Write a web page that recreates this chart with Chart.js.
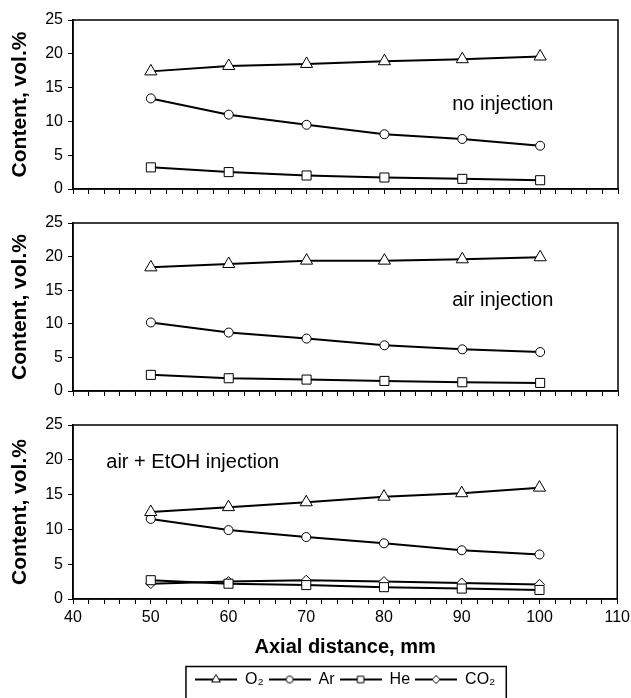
<!DOCTYPE html>
<html>
<head>
<meta charset="utf-8">
<script src="https://cdn.jsdelivr.net/npm/chart.js@4.4.0/dist/chart.umd.min.js"></script>
<style>
body { margin: 0; background: #fff; width: 631px; height: 698px; position: relative; overflow: hidden; }
canvas { position: absolute; left: 0; }
</style>
</head>
<body>
<canvas id="c1" width="634" height="202" style="top:0px"></canvas>
<canvas id="c2" width="634" height="202" style="top:202px"></canvas>
<canvas id="c3" width="634" height="300" style="top:404px"></canvas>
<script>
// axial distance, mm
var xValues = [50, 60, 70, 80, 90, 100];

// no injection
var o2NoInj = [17.4, 18.2, 18.5, 18.9, 19.2, 19.6];
var arNoInj = [13.4, 11.0, 9.5, 8.1, 7.4, 6.4];
var heNoInj = [3.2, 2.5, 2.0, 1.7, 1.5, 1.3];

// air injection
var o2Air = [18.4, 18.9, 19.4, 19.4, 19.6, 19.9];
var arAir = [10.2, 8.7, 7.8, 6.8, 6.2, 5.8];
var heAir = [2.4, 1.9, 1.7, 1.5, 1.3, 1.2];

// air + EtOH injection
var o2Etoh = [12.5, 13.2, 13.9, 14.7, 15.2, 16.0];
var arEtoh = [11.5, 9.9, 8.9, 8.0, 7.0, 6.4];
var heEtoh = [2.7, 2.2, 2.0, 1.7, 1.5, 1.3];
var co2Etoh = [2.2, 2.5, 2.7, 2.5, 2.3, 2.1];

var seriesNames = ['O\u2082', 'Ar', 'He', 'CO\u2082'];
var xTicks = [40, 50, 60, 70, 80, 90, 100, 110];
var yTicks = [0, 5, 10, 15, 20, 25];

var FONT = '"Liberation Sans", Arial, Helvetica, sans-serif';
var styles = ['triangle', 'circle', 'rect', 'rectRot'];
var radii = [7, 4.5, 6.4, 5];
var legendRadii = [5, 3.5, 4.6, 4];

function pts(arr) {
    return xValues.map(function (x, i) { return {x: x, y: arr[i]}; });
}

function dataset(i, arr) {
    return {
        label: seriesNames[i],
        data: pts(arr),
        borderColor: '#000',
        borderWidth: 2,
        pointStyle: styles[i],
        pointRadius: radii[i],
        pointBackgroundColor: '#fff',
        pointBorderColor: '#000',
        pointBorderWidth: 1,
        tension: 0,
        fill: false
    };
}

// little line + marker pictures for the legend
function legendImage(i) {
    var c = document.createElement('canvas');
    c.width = 42; c.height = 14;
    var ctx = c.getContext('2d');
    ctx.strokeStyle = '#000';
    ctx.lineWidth = 2;
    ctx.beginPath(); ctx.moveTo(0, 7); ctx.lineTo(42, 7); ctx.stroke();
    ctx.fillStyle = '#fff';
    ctx.lineWidth = 1;
    Chart.helpers.drawPoint(ctx, {pointStyle: styles[i], radius: legendRadii[i], rotation: 0, borderWidth: 1}, 21, 7);
    return c;
}

var framePlugin = {
    id: 'frame',
    afterDraw: function (chart, args, opts) {
        var ctx = chart.ctx, a = chart.chartArea;
        ctx.save();
        ctx.strokeStyle = '#000';
        ctx.lineWidth = 1.5;
        ctx.strokeRect(a.left, a.top, a.right - a.left, a.bottom - a.top);
        if (opts.text) {
            ctx.font = '20px ' + FONT;
            ctx.fillStyle = '#000';
            ctx.textAlign = 'center';
            ctx.textBaseline = 'middle';
            ctx.fillText(opts.text, chart.scales.x.getPixelForValue(opts.x), chart.scales.y.getPixelForValue(opts.y));
        }
        var lg = chart.legend;
        if (opts.legendBox && lg && lg.legendHitBoxes && lg.legendHitBoxes.length) {
            var hb = lg.legendHitBoxes;
            var l = hb[0].left - 9;
            var r = hb[hb.length - 1].left + hb[hb.length - 1].width + 11;
            ctx.lineWidth = 1.5;
            ctx.strokeRect(l, lg.top, r - l, 60);
        }
        ctx.restore();
    }
};

function makePanel(id, datasets, o) {
    var last = !!o.last;
    return new Chart(id, {
        type: 'line',
        data: {datasets: datasets},
        plugins: [framePlugin],
        options: {
            responsive: false,
            animation: false,
            layout: {padding: {top: o.top, left: 0, right: 16, bottom: o.bottom || 0}},
            scales: {
                x: {
                    type: 'linear',
                    min: xTicks[0], max: xTicks[xTicks.length - 1],
                    afterFit: function (s) { s.height = o.xh; },
                    ticks: {
                        stepSize: 2, autoSkip: false, maxRotation: 0, maxTicksLimit: 100,
                        padding: 4, color: '#000',
                        font: {family: FONT, size: 16},
                        callback: function (v) { return (last && xTicks.indexOf(v) >= 0) ? String(v) : ''; }
                    },
                    grid: {drawOnChartArea: false, drawTicks: true, tickLength: 5, color: '#000', lineWidth: 1},
                    border: {display: true, color: '#000', width: 1.5},
                    title: {
                        display: last, text: 'Axial distance, mm', color: '#000',
                        font: {family: FONT, size: 20, weight: 'bold'},
                        padding: {top: 0, bottom: 7}
                    }
                },
                y: {
                    min: yTicks[0], max: yTicks[yTicks.length - 1],
                    afterFit: function (s) { s.width = 73; },
                    ticks: {stepSize: 5, padding: 5, color: '#000', font: {family: FONT, size: 16, lineHeight: 1}},
                    grid: {drawOnChartArea: false, drawTicks: true, tickLength: 5, color: '#000', lineWidth: 1},
                    border: {display: true, color: '#000', width: 1.5},
                    title: {
                        display: true, text: 'Content, vol.%', color: '#000',
                        font: {family: FONT, size: 21, weight: 'bold'},
                        padding: {top: 8, bottom: 0}
                    }
                }
            },
            plugins: {
                tooltip: {enabled: false},
                frame: o.frame,
                legend: {
                    display: last,
                    position: 'bottom',
                    fullSize: false,
                    labels: {
                        usePointStyle: true,
                        pointStyleWidth: 42,
                        padding: 5,
                        color: '#000',
                        font: {family: FONT, size: 16},
                        generateLabels: function (chart) {
                            return chart.data.datasets.map(function (d, i) {
                                return {
                                    text: d.label, pointStyle: legendImage(i), fillStyle: '#fff',
                                    strokeStyle: '#000', lineWidth: 0, fontColor: '#000', datasetIndex: i
                                };
                            });
                        }
                    }
                }
            }
        }
    });
}

document.addEventListener('DOMContentLoaded', () => {
    makePanel('c1', [dataset(0, o2NoInj), dataset(1, arNoInj), dataset(2, heNoInj)],
        {top: 20, xh: 9, frame: {text: 'no injection', x: 95.2, y: 12.5}});
    makePanel('c2', [dataset(0, o2Air), dataset(1, arAir), dataset(2, heAir)],
        {top: 21, xh: 9.5, frame: {text: 'air injection', x: 95.2, y: 13.5}});
    makePanel('c3', [dataset(0, o2Etoh), dataset(1, arEtoh), dataset(2, heEtoh), dataset(3, co2Etoh)],
        {top: 21, xh: 67.5, bottom: 6.5, last: true, frame: {text: 'air + EtOH injection', x: 55.4, y: 19.6, legendBox: true}});
});
</script>
</body>
</html>
